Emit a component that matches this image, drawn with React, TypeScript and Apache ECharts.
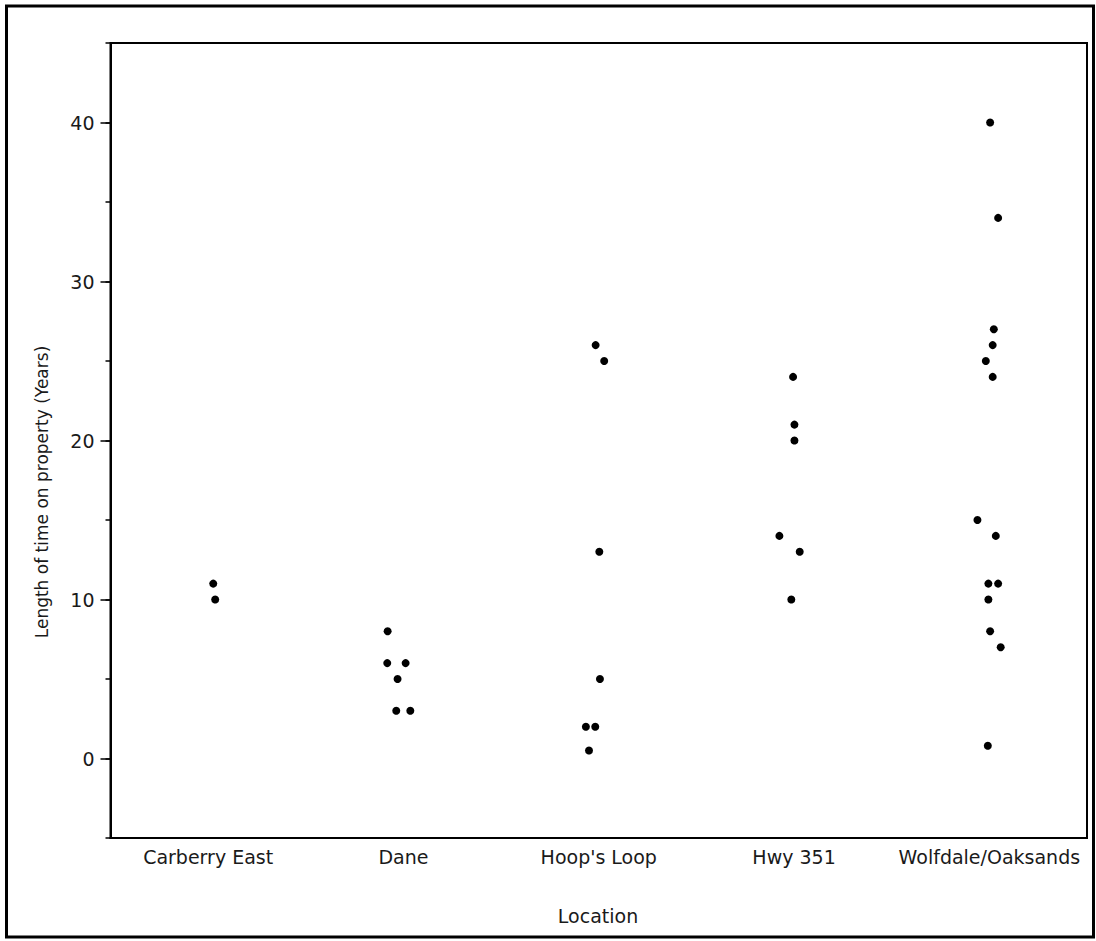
import React, { useEffect, useRef } from "react";
import * as echarts from "echarts";

const categories = ["Carberry East", "Dane", "Hoop's Loop", "Hwy 351", "Wolfdale/Oaksands"];

const carberryEast = [11, 10];
const carberryJitter = [0.026, 0.036];
const dane = [8, 6, 6, 5, 3, 3];
const daneJitter = [-0.081, -0.083, 0.011, -0.03, -0.037, 0.035];
const hoopsLoop = [26, 25, 13, 5, 2, 2, 0.5];
const hoopsJitter = [-0.016, 0.028, 0.003, 0.006, -0.066, -0.018, -0.05];
const hwy351 = [24, 21, 20, 14, 13, 10];
const hwyJitter = [-0.005, 0.002, 0.002, -0.075, 0.029, -0.014];
const wolfdale = [40, 34, 27, 26, 25, 24, 15, 14, 11, 11, 10, 8, 7, 0.8];
const wolfJitter = [0.004, 0.045, 0.023, 0.017, -0.018, 0.017, -0.061, 0.033, -0.005, 0.045, -0.005, 0.004, 0.058, -0.008];

const majorTicks = [0, 10, 20, 30, 40];

const groups = [
  { values: carberryEast, jitter: carberryJitter },
  { values: dane, jitter: daneJitter },
  { values: hoopsLoop, jitter: hoopsJitter },
  { values: hwy351, jitter: hwyJitter },
  { values: wolfdale, jitter: wolfJitter },
];

export default function App() {
  const ref = useRef<HTMLDivElement>(null);
  useEffect(() => {
    if (!ref.current) return;
    const chart = echarts.init(ref.current, null, { renderer: "svg" });
    const points: number[][] = [];
    groups.forEach((g, i) => {
      g.values.forEach((v, j) => points.push([i + 0.5 + g.jitter[j], v]));
    });
    const font = "DejaVu Sans";
    chart.setOption({
      animation: false,
      backgroundColor: "#fff",
      textStyle: { fontFamily: font },
      grid: {
        left: 110.5,
        right: 9,
        top: 43,
        bottom: 103,
        show: true,
        borderColor: "#000",
        borderWidth: 2,
        backgroundColor: "transparent",
      },
      xAxis: [
        {
          type: "category",
          data: categories,
          boundaryGap: true,
          axisLine: { show: true, onZero: false, lineStyle: { color: "#000", width: 2 } },
          axisTick: { show: false },
          axisLabel: { color: "#1a1a1a", fontSize: 19, margin: 9, fontFamily: font, interval: 0 },
          splitLine: { show: false },
        },
        {
          type: "value",
          min: 0,
          max: 5,
          show: false,
          axisLine: { onZero: false },
          splitLine: { show: false },
        },
      ],
      yAxis: [
        {
          type: "value",
          min: -5,
          max: 45,
          interval: 5,
          axisLine: { show: true, onZero: false, lineStyle: { color: "#000", width: 2 } },
          axisTick: { show: true, length: 5, lineStyle: { color: "#000", width: 1.5 } },
          axisLabel: { show: false },
          splitLine: { show: false },
        },
        {
          type: "value",
          min: -5,
          max: 45,
          position: "left",
          axisLine: { show: false, onZero: false },
          axisTick: { show: true, length: 10, customValues: majorTicks, lineStyle: { color: "#000", width: 1.5 } },
          axisLabel: { show: true, customValues: majorTicks, color: "#1a1a1a", fontSize: 19, margin: 16, fontFamily: font },
          splitLine: { show: false },
        },
      ],
      series: [
        {
          type: "scatter",
          xAxisIndex: 1,
          yAxisIndex: 0,
          data: points,
          symbol: "circle",
          symbolSize: 8,
          itemStyle: { color: "#000", opacity: 1 },
        },
      ],
      graphic: [
        {
          type: "rect",
          shape: { x: 6.5, y: 6, width: 1087, height: 931 },
          style: { fill: "none", stroke: "#000", lineWidth: 3 },
          silent: true,
        },
        {
          type: "text",
          x: 42,
          y: 492,
          rotation: Math.PI / 2,
          style: {
            text: "Length of time on property (Years)",
            fontSize: 17,
            fontFamily: font,
            fill: "#1a1a1a",
            textAlign: "center",
            textVerticalAlign: "middle",
          },
        },
        {
          type: "text",
          x: 598,
          y: 916,
          style: {
            text: "Location",
            fontSize: 19,
            fontFamily: font,
            fill: "#1a1a1a",
            textAlign: "center",
            textVerticalAlign: "middle",
          },
        },
      ],
    });
    return () => chart.dispose();
  }, []);
  return (
    <div
      ref={ref}
      style={{ position: "fixed", left: 0, top: 0, width: 1096, height: 941, background: "#fff" }}
    />
  );
}
